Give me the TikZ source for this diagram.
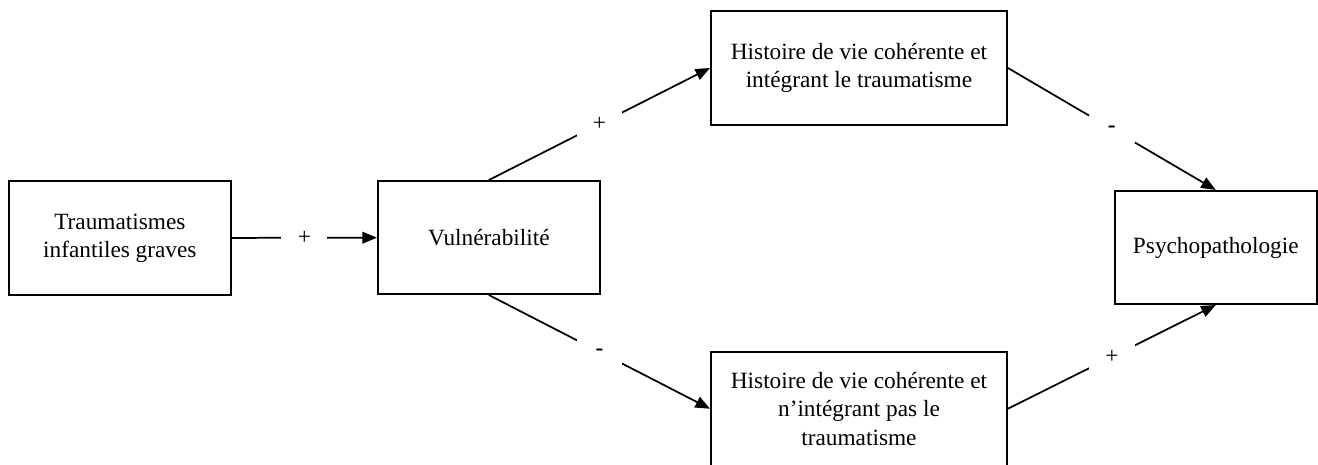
\documentclass[tikz,border=0pt]{standalone}
\usepackage{fontspec}
\setmainfont{Liberation Serif}
\usepackage{tikz}
\usetikzlibrary{arrows.meta}
\tikzstyle{box} = [rectangle, draw, line width=0.9pt, align=center, font=\fontsize{12}{14.6}\selectfont]
\tikzstyle{sign} = [fill=white, minimum width=0.83cm, minimum height=0.5cm, inner sep=0pt, font=\fontsize{12}{14}\selectfont]
\tikzstyle{arrow} = [line width=0.9pt,->,>={Triangle[length=7.5pt,width=6pt]}]

\begin{document}
\begin{tikzpicture}
            \useasboundingbox (0,0) rectangle (23.86,-8.40);
            \node [box, minimum width=4.02cm, minimum height=2.06cm] at (2.17,-4.31) (trauma) {Traumatismes\\infantiles graves};
            \node [box, minimum width=4.02cm, minimum height=2.05cm] at (8.85,-4.30) (vuln) {Vulnérabilité};
            \node [box, minimum width=5.36cm, minimum height=2.06cm] at (15.55,-1.23) (hist1) {Histoire de vie cohérente et\\intégrant le traumatisme};
            \node [box, minimum width=5.36cm, minimum height=2.06cm] at (15.55,-7.40) (hist2) {Histoire de vie cohérente et\\n’intégrant pas le\\traumatisme};
            \node [box, minimum width=3.66cm, minimum height=2.05cm] at (22.01,-4.48) (psycho) {Psychopathologie};

            \draw [arrow] (trauma) -- node[sign] {+} (vuln);
            \draw [arrow] (vuln.north) -- node[sign] {+} (hist1.west);
            \draw [arrow] (vuln.south) -- node[sign] {\textbf{-}} (hist2.west);
            \draw [arrow] (hist1.east) -- node[sign] {\textbf{-}} (psycho.north);
            \draw [arrow] (hist2.east) -- node[sign] {+} (psycho.south);
            \end{tikzpicture}
\end{document}
